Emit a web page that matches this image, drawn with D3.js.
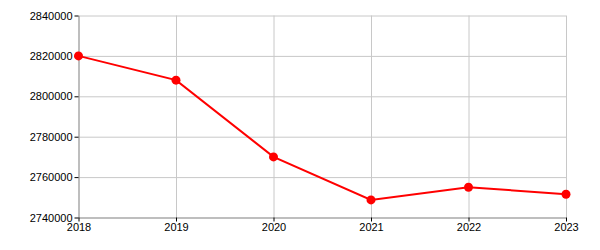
<!DOCTYPE html>
<html>
<head>
<meta charset="utf-8">
<script src="https://cdn.jsdelivr.net/npm/d3@7"></script>
<style>
body { margin: 0; background: #fff; }
text { font-family: "Liberation Sans", Arial, sans-serif; font-size: 11px; fill: #000; }
.grid line { stroke: #c8c8c8; stroke-width: 1; }
.grid .domain { display: none; }
.axis .domain { stroke: #999; }
.axis line { stroke: #000; }
</style>
</head>
<body>
<div id="chart"></div>
<script>
var years = ["2018", "2019", "2020", "2021", "2022", "2023"];
var values = [2820000, 2808000, 2770000, 2748700, 2755000, 2751500];
var yTicks = [2740000, 2760000, 2780000, 2800000, 2820000, 2840000];

var WIDTH = 600, HEIGHT = 250;
var MARGIN = { top: 15.5, right: 34, bottom: 32.5, left: 78.5 };
var innerW = WIDTH - MARGIN.left - MARGIN.right;
var innerH = HEIGHT - MARGIN.top - MARGIN.bottom;

var svg = d3.select("#chart").append("svg")
    .attr("width", WIDTH)
    .attr("height", HEIGHT);

var g = svg.append("g")
    .attr("transform", "translate(" + MARGIN.left + "," + MARGIN.top + ")");

var x = d3.scalePoint().domain(years).range([0, innerW]);
var y = d3.scaleLinear().domain([2740000, 2840000]).range([innerH, 0]);

// grid
g.append("g").attr("class", "grid")
    .call(d3.axisLeft(y).tickValues(yTicks).tickSize(-innerW).tickFormat(""));
g.append("g").attr("class", "grid")
    .call(d3.axisBottom(x).tickSize(innerH).tickFormat(""));

// axes
g.append("g").attr("class", "axis")
    .call(d3.axisLeft(y).tickValues(yTicks).tickSizeInner(4).tickSizeOuter(0).tickPadding(2).tickFormat(d3.format("d")));
g.append("g").attr("class", "axis")
    .attr("transform", "translate(0," + innerH + ")")
    .call(d3.axisBottom(x).tickSizeInner(4).tickSizeOuter(0).tickPadding(2));

var line = d3.line()
    .x(function(d, i) { return x(years[i]); })
    .y(function(d) { return y(d); });

g.append("path")
    .datum(values)
    .attr("fill", "none")
    .attr("stroke", "#ff0000")
    .attr("stroke-width", 2)
    .attr("d", line);

g.selectAll(".dot")
    .data(values)
    .enter()
    .append("circle")
    .attr("class", "dot")
    .attr("cx", function(d, i) { return x(years[i]); })
    .attr("cy", function(d) { return y(d); })
    .attr("r", 4.5)
    .attr("fill", "#ff0000");
</script>
</body>
</html>
